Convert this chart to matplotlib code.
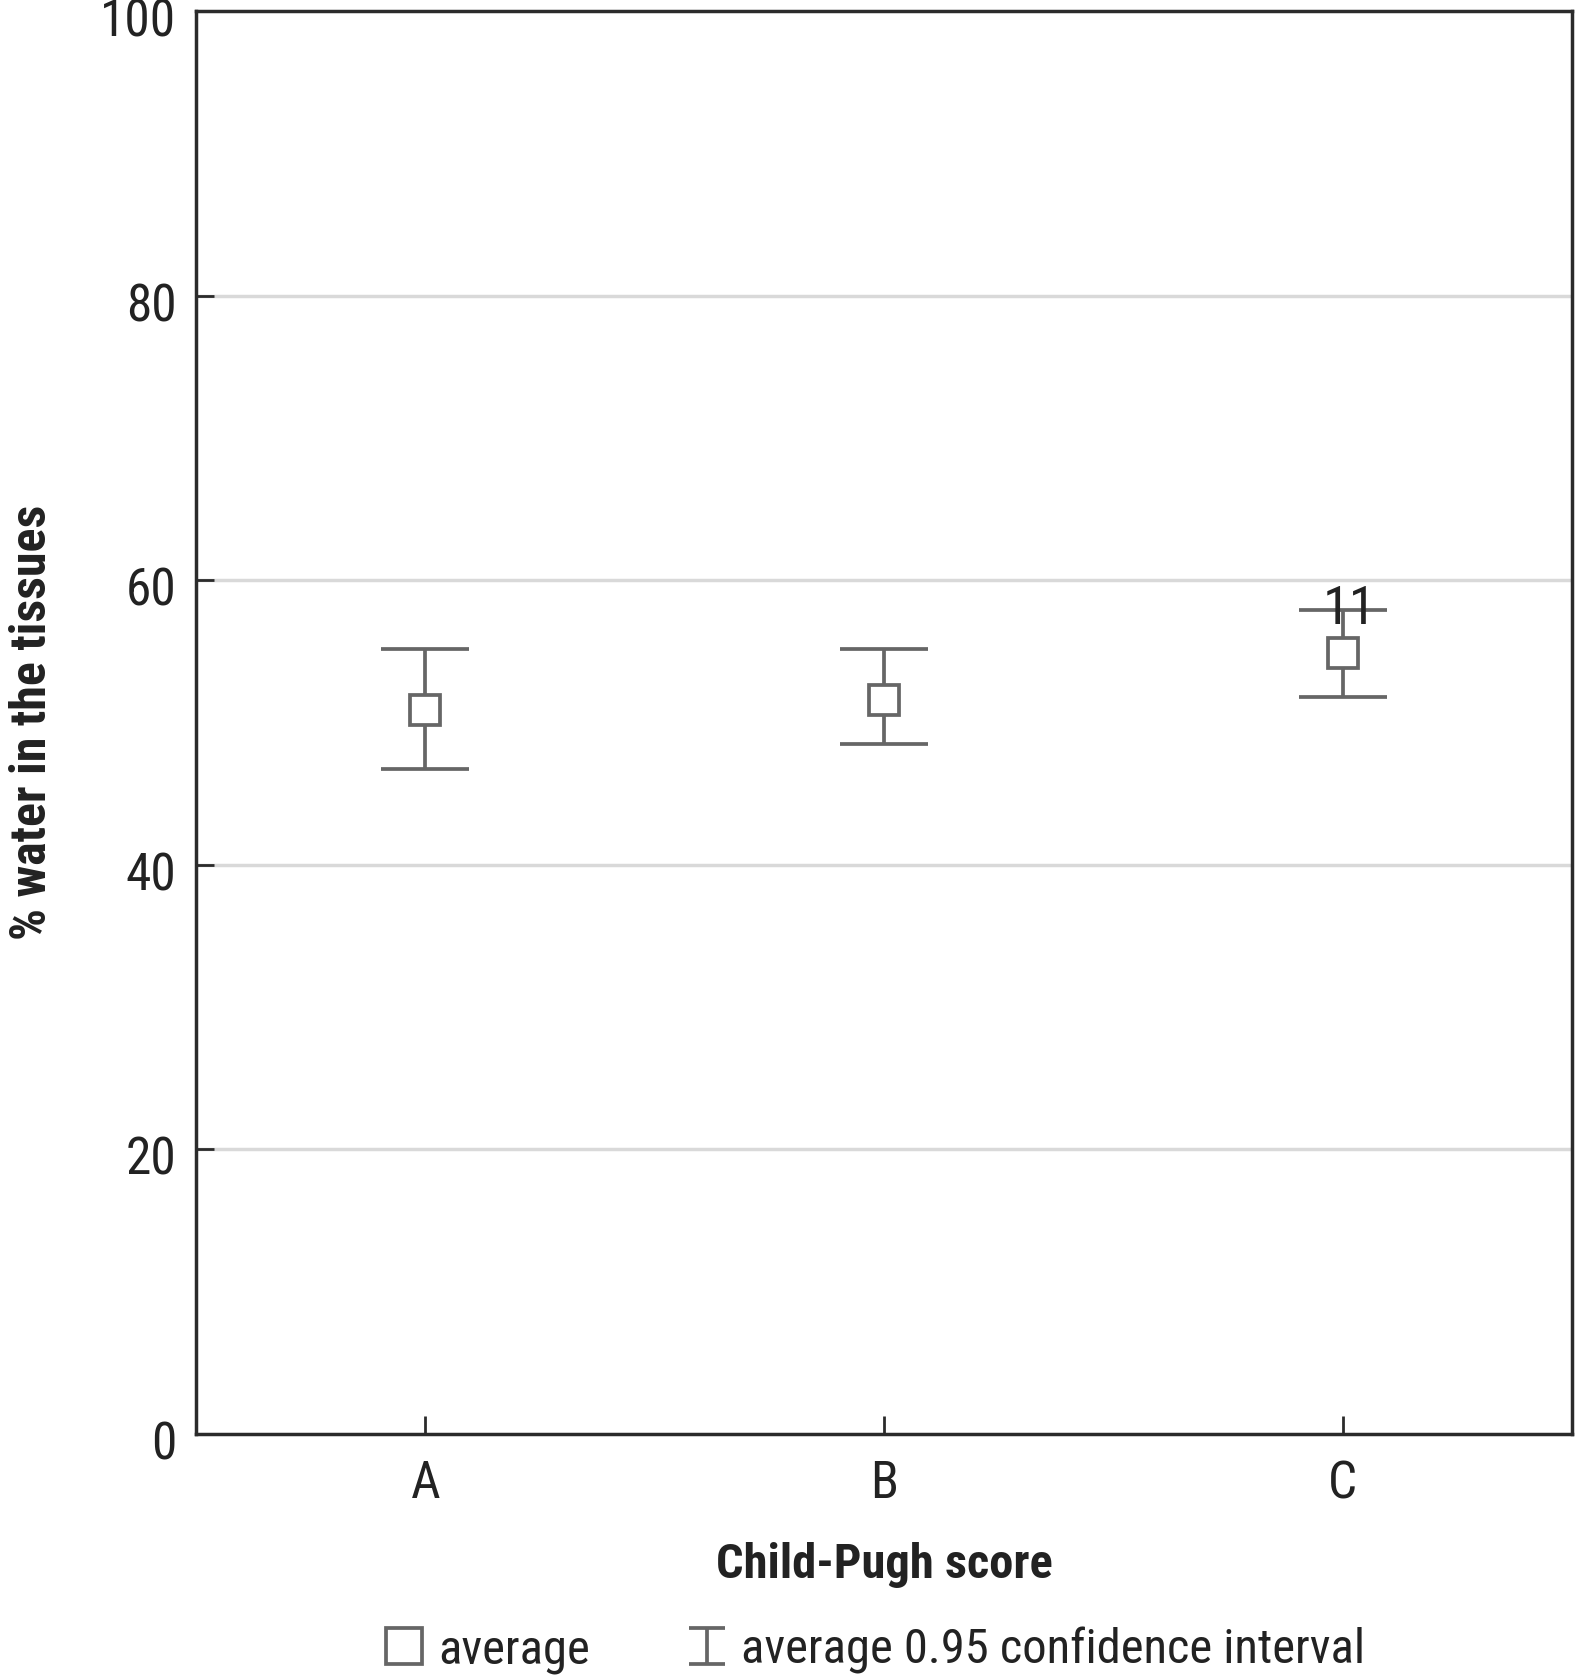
from __future__ import annotations

import matplotlib

matplotlib.use("Agg")
import matplotlib.pyplot as plt
from matplotlib.lines import Line2D
from matplotlib.path import Path
from matplotlib.transforms import ScaledTranslation

categories = ["A", "B", "C"]
means = [50.9, 51.6, 54.9]
ci_low = [46.7, 48.5, 51.8]
ci_high = [55.2, 55.2, 57.9]
y_ticks = [0, 20, 40, 60, 80, 100]
outlier_label = "11"
outlier_y = 56.9

plt.rcParams["font.family"] = ["Roboto Condensed", "Roboto", "DejaVu Sans"]

GRAY = "#666666"
DARK = "#2b2b2b"
TEXT = "#222222"

# I-beam glyph for the confidence interval entry in the legend
IBEAM = Path(
    [(-0.5, -0.5), (0.5, -0.5), (0, -0.5), (0, 0.5), (-0.5, 0.5), (0.5, 0.5)],
    [Path.MOVETO, Path.LINETO, Path.MOVETO, Path.LINETO, Path.MOVETO, Path.LINETO],
)


def main() -> None:
    fig = plt.figure(figsize=(15.75, 16.77), dpi=100)
    ax = fig.add_axes([0.1244, 0.1449, 0.8736, 0.8485])

    xs = list(range(len(categories)))
    yerr = [
        [m - lo for m, lo in zip(means, ci_low)],
        [hi - m for m, hi in zip(means, ci_high)],
    ]

    for y in y_ticks[1:-1]:
        ax.axhline(y, color="#d9d9d9", lw=2.5, zorder=0)

    ax.errorbar(xs, means, yerr=yerr, fmt="none", ecolor=GRAY,
                elinewidth=2.7, capsize=32, capthick=2.7, zorder=2)
    avg, = ax.plot(xs, means, ls="none", marker="s", ms=22, mfc="white",
                   mec=GRAY, mew=2.7, zorder=3)

    ax.text(2.015, outlier_y, outlier_label, ha="center", va="baseline",
            fontsize=39, color=TEXT, zorder=4)

    ax.set_xlim(-0.5, 2.5)
    ax.set_ylim(0, 100)
    ax.set_xticks(xs)
    ax.set_xticklabels(categories)
    ax.set_yticks(y_ticks)
    ax.tick_params(direction="in", length=13, width=2, colors=DARK,
                   labelsize=37, labelcolor=TEXT)
    ax.tick_params(axis="y", pad=14)
    ax.tick_params(axis="x", pad=18)
    shift = ScaledTranslation(0, -0.06, fig.dpi_scale_trans)
    for lab in ax.get_yticklabels():
        lab.set_transform(lab.get_transform() + shift)
    for spine in ax.spines.values():
        spine.set_color(DARK)
        spine.set_linewidth(2.5)

    ax.set_xlabel("Child-Pugh score", fontsize=35, fontweight="bold",
                  color=TEXT, labelpad=24)
    ax.set_ylabel("% water in the tissues", fontsize=36, fontweight="bold",
                  color=TEXT, labelpad=32)

    avg_handle = Line2D([], [], ls="none", marker="s", ms=26, mfc="white",
                        mec=GRAY, mew=2.7)
    ci_handle = Line2D([], [], ls="none", marker=IBEAM, ms=26, mfc="none",
                       mec=GRAY, mew=2.7)
    fig.legend([avg_handle, ci_handle],
               ["average", "average 0.95 confidence interval"],
               loc="center", bbox_to_anchor=(875 / 1575, 1 - 1650 / 1677),
               ncol=2, frameon=False, fontsize=35, handlelength=0.8,
               handletextpad=0.3, columnspacing=2.0, labelcolor=TEXT,
               borderpad=0)

    fig.savefig("out.png", dpi=100)
    plt.close(fig)


if __name__ == "__main__":
    main()
